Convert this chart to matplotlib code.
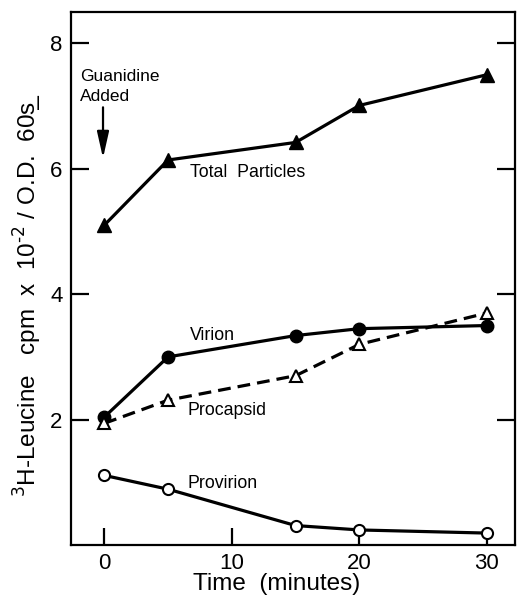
import matplotlib
matplotlib.use("Agg")
import matplotlib.pyplot as plt

plt.rcParams['font.family'] = ['Liberation Sans', 'DejaVu Sans']

time = [0, 5, 15, 20, 30]
total_particles = [5.10, 6.14, 6.42, 7.01, 7.50]
virion = [2.04, 3.00, 3.34, 3.45, 3.50]
procapsid = [1.94, 2.31, 2.70, 3.20, 3.70]
provirion = [1.11, 0.89, 0.31, 0.24, 0.19]

x_ticks = [0, 10, 20, 30]
y_ticks = [2, 4, 6, 8]

fig = plt.figure(figsize=(5.17, 5.98), dpi=100)
ax = fig.add_axes([71/517, 53/598, (515-71)/517, (545-12)/598])

lw = 2.3
ax.plot(time, total_particles, '-', color='black', lw=lw, marker='^', ms=10,
        mfc='black', mec='black')
ax.plot(time, virion, '-', color='black', lw=lw, marker='o', ms=9,
        mfc='black', mec='black')
ax.plot(time, procapsid, '--', color='black', lw=lw, marker='^', ms=9,
        mfc='white', mec='black', mew=1.5, dashes=(4, 2.2))
ax.plot(time, provirion, '-', color='black', lw=lw, marker='o', ms=8,
        mfc='white', mec='black', mew=1.5)

ax.set_xlim(-2.61, 32.2)
ax.set_ylim(0, 8.5)
ax.set_xticks(x_ticks)
ax.set_yticks(y_ticks)
ax.tick_params(axis='x', direction='in', length=12, width=1.6, pad=6,
               labelsize=16)
ax.tick_params(axis='y', direction='in', length=13, width=1.6, pad=6,
               labelsize=16, right=True)
for s in ax.spines.values():
    s.set_linewidth(1.6)

ax.set_xlabel('Time  (minutes)', fontsize=17.5, va='center')
ax.xaxis.set_label_coords(0.464, -0.074)
ax.set_ylabel(r'$^{3}$H-Leucine   cpm  x  10$^{\text{-2}}$ / O.D.  60s' + '\u0332',
              fontsize=17.5, va='center')
ax.yaxis.set_label_coords(-0.097, 0.469)

ax.text(-1.9, 7.31, 'Guanidine\nAdded', fontsize=12.5, ha='left', va='center',
        linespacing=1.45)
ax.annotate('', xy=(-0.1, 6.17), xytext=(-0.1, 6.98),
            arrowprops=dict(arrowstyle='-|>,head_length=0.8,head_width=0.18',
                            color='black', lw=1.6,
                            mutation_scale=20, shrinkA=0, shrinkB=0))
ax.text(6.72, 5.94, 'Total  Particles', fontsize=12.8, ha='left', va='center')
ax.text(6.72, 3.34, 'Virion', fontsize=12.8, ha='left', va='center')
ax.text(6.56, 2.15, 'Procapsid', fontsize=12.8, ha='left', va='center')
ax.text(6.56, 0.98, 'Provirion', fontsize=12.8, ha='left', va='center')

fig.savefig('out.png', dpi=100)
